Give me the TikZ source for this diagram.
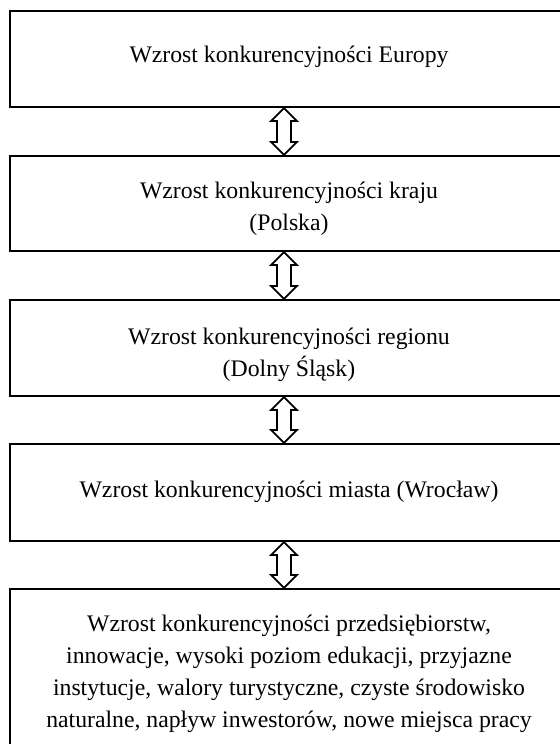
\documentclass[tikz,border=0pt]{standalone}
\usepackage{fontspec}
\setmainfont{Liberation Serif}
\usetikzlibrary{calc}
\begin{document}
\begin{tikzpicture}[x=0.75pt,y=-0.75pt,
  box/.style={draw=black,line width=1.6pt,rectangle,inner sep=0pt,
    minimum width={554*0.75pt}},
  txt/.style={inner sep=0pt,align=center,
    font=\fontsize{17.8pt}{24pt}\selectfont},
  arr/.style={draw=black,line width=1.3pt,fill=white,line join=miter}]
\useasboundingbox (0,0) rectangle (560,744);
\node[box,minimum height={96*0.75pt}] (b1) at (287,59) {};
\node[box,minimum height={95*0.75pt}] (b2) at (287,203.5) {};
\node[box,minimum height={96*0.75pt}] (b3) at (287,348) {};
\node[box,minimum height={97*0.75pt}] (b4) at (287,492.5) {};
\node[box,minimum height={170*0.75pt}] (b5) at (287,674) {};
\node[txt] (t1) at ($(b1)+(2,-2)$) {Wzrost konkurencyjności Europy};
\node[txt] (t2) at ($(b2)+(2,5)$) {Wzrost konkurencyjności kraju\\(Polska)};
\node[txt] (t3) at ($(b3)+(2,7)$) {Wzrost konkurencyjności regionu\\(Dolny Śląsk)};
\node[txt] (t4) at ($(b4)+(2,-1)$) {Wzrost konkurencyjności miasta (Wrocław)};
\node[txt] (t5) at ($(b5)+(2,0)$) {Wzrost konkurencyjności przedsiębiorstw,\\innowacje, wysoki poziom edukacji, przyjazne\\instytucje, walory turystyczne, czyste środowisko\\naturalne, napływ inwestorów, nowe miejsca pracy};
\foreach \a/\b in {b1/b2,b2/b3,b3/b4,b4/b5}{
  \draw[arr] ($(\a.south)+(-3,0)$) -- ++(13,13) -- ++(-6,0)
    -- ($(\b.north)+(4,-13)$) -- ++(6,0) -- ($(\b.north)+(-3,0)$)
    -- ++(-13,-13) -- ++(6,0) -- ($(\a.south)+(-10,13)$) -- ++(-6,0) -- cycle;
}
\end{tikzpicture}
\end{document}
